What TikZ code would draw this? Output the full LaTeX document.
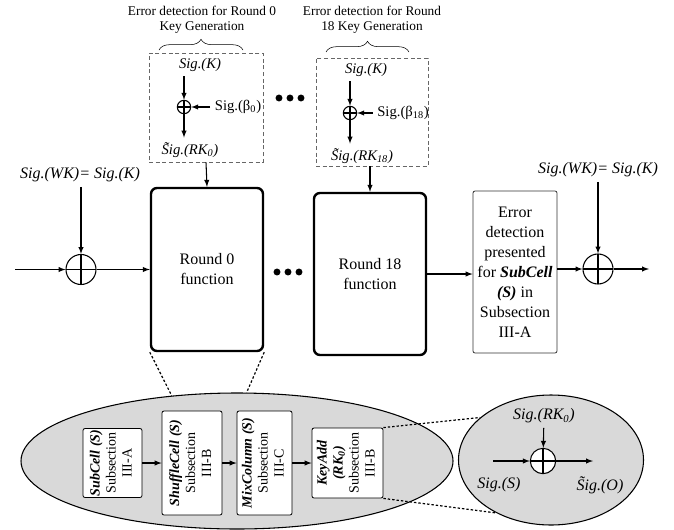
\documentclass[tikz,border=0pt]{standalone}
\usepackage{fontspec}
\setmainfont{Liberation Serif}
\usepackage{graphicx}
\usetikzlibrary{shapes.geometric, decorations.pathreplacing}

\newcommand{\tildesig}{\~{S}ig.}
\newcommand{\rottext}[1]{\rotatebox{90}{\begin{tabular}{@{}c@{}}#1\end{tabular}}}

\tikzset{
  arr/.style = {-latex, line width=0.8pt},
  xorgate/.style = {circle, draw, line width=0.8pt, inner sep=0pt,
    path picture={\draw[line width=0.8pt] (path picture bounding box.north) -- (path picture bounding box.south)
      (path picture bounding box.west) -- (path picture bounding box.east);}},
  kgbox/.style = {draw=black!60, dash pattern=on 3pt off 2pt, line width=0.6pt},
  roundbox/.style = {draw, line width=1.8pt, rounded corners=4.5pt, align=center},
  subbox/.style = {draw, line width=0.6pt, rounded corners=1.5pt, fill=white, inner sep=0pt},
  zoomline/.style = {line width=0.9pt, dash pattern=on 1.8pt off 1.5pt},
  glass/.style = {ellipse, draw, line width=0.8pt, fill=black!15},
}

\begin{document}
\begin{tikzpicture}[x=0.75pt, y=-0.75pt, font=\fontsize{12}{15}\selectfont]
  \useasboundingbox (0,0) rectangle (674,529);

  % Schlüsselerzeugung oben
  \node [align=center, font=\fontsize{10}{11.25}\selectfont] (lab0) at (202,20) {Error detection for Round 0\\Key Generation};
  \node [align=center, font=\fontsize{10}{11.25}\selectfont] (lab18) at (372,20) {Error detection for Round\\18 Key Generation};
  \draw [decorate, decoration={brace, amplitude=8pt}] (159,50) -- (243,50);
  \draw [decorate, decoration={brace, amplitude=8pt}] (326,52) -- (409,52);

  \node [kgbox, minimum width=85.5pt, minimum height=81.75pt] (kg0) at (206,107.5) {};
  \node [kgbox, minimum width=84pt, minimum height=81pt] (kg18) at (372,112) {};

  \begin{scope}[font=\fontsize{11}{13}\selectfont]
    \node (k0) at (200,65) {\textit{Sig.(K)}};
    \node [xorgate, minimum size=10pt] (x0) at (184,107) {};
    \node (b0) at (238,107) {Sig.(β\textsubscript{0})};
    \node (rk0) at (190,150) {\textit{\tildesig(RK\textsubscript{0})}};
    \node (k18) at (366,70) {\textit{Sig.(K)}};
    \node [xorgate, minimum size=10pt] (x18) at (350,113) {};
    \node (b18) at (403,113) {Sig.(β\textsubscript{18})};
    \node (rk18) at (362,156) {\textit{\tildesig(RK\textsubscript{18})}};
  \end{scope}
  \draw [arr] (k0.south -| x0) -- (x0);
  \draw [arr] (b0.west) -- (x0);
  \draw [arr] (x0) -- (x0 |- rk0.north);
  \draw [arr] (k18.south -| x18) -- (x18);
  \draw [arr] (b18.west) -- (x18);
  \draw [arr] (x18) -- (x18 |- rk18.north);

  % Punkte
  \foreach \px in {279,290,301} \fill (\px,98) circle (2.6pt);
  \foreach \px in {277,288,299} \fill (\px,272) circle (2.6pt);

  % Runden
  \node [roundbox, minimum width=84pt, minimum height=122.25pt] (r0) at (207,269.5) {Round 0\\function};
  \node [roundbox, minimum width=84pt, minimum height=121.5pt] (r18) at (370,274) {Round 18\\function};
  \node [draw=black!80, line width=0.6pt, rounded corners=1.5pt, align=center, minimum width=63pt, minimum height=121.5pt, inner sep=1pt] (err) at (515,272)
    {Error\\detection\\presented\\for \textbf{\textit{SubCell}}\\\textbf{\textit{(S)}} in\\Subsection\\III-A};
  \draw [arr] (kg0.south) -- (r0.north);
  \draw [arr] (kg18.south -| r18) -- (r18.north);

  % Whitening links und rechts
  \node (wkl) at (80,175) {\textit{Sig.(WK)= Sig.(K)}};
  \node [xorgate, minimum size=22.5pt] (xl) at (81,269.5) {};
  \coordinate (in) at (15,269.5);
  \draw [arr] (wkl.south -| xl) -- (xl);
  \draw [arr] (in) -- (xl);
  \draw [arr] (xl) -- (r0);
  \draw [arr] (r18.east) -- (r18.east -| err.west);

  \node (wkr) at (598,170) {\textit{Sig.(WK)= Sig.(K)}};
  \node [xorgate, minimum size=22.5pt] (xr) at (598,269) {};
  \coordinate (out) at (649,269);
  \draw [arr] (wkr.south -| xr) -- (xr);
  \draw [arr] (err.east |- xr) -- (xr);
  \draw [arr] (xr) -- (out);

  % Vergrößerung unten
  \node [glass, minimum width=324pt, minimum height=102pt] (big) at (237,461) {};
  \node [glass, minimum width=138.75pt, minimum height=97.5pt] (zm) at (551,460) {};

  \begin{scope}[font=\fontsize{10.5}{12}\selectfont]
    \node [subbox, minimum width=44.25pt, minimum height=51.75pt] (sub) at (112.5,463)
      {\rottext{\textbf{\textit{SubCell (S)}}\\Subsection\\III-A}};
    \node [subbox, minimum width=45pt, minimum height=78pt] (shf) at (192,463)
      {\rottext{\textbf{\textit{ShuffleCell (S)}}\\Subsection\\III-B}};
    \node [subbox, minimum width=41.25pt, minimum height=78pt] (mix) at (264.5,463)
      {\rottext{\textbf{\textit{MixColumn (S)}}\\Subsection\\III-C}};
    \node [subbox, minimum width=53.25pt, minimum height=52.5pt] (key) at (347.5,463)
      {\rottext{\textbf{\textit{KeyAdd}}\\\textbf{\textit{(RK\textsubscript{0})}}\\Subsection\\III-B}};
  \end{scope}
  \draw [arr] (sub) -- (shf);
  \draw [arr] (shf) -- (mix);
  \draw [arr] (mix) -- (key);

  \node [xorgate, fill=white, minimum size=19pt] (xb) at (543,461) {};
  \node (rkb) at (544,416) {\textit{Sig.(RK\textsubscript{0})}};
  \node (sb) at (499,485) {\textit{Sig.(S)}};
  \node (ob) at (600,485) {\textit{\tildesig(O)}};
  \coordinate (sin) at (493,461);
  \coordinate (sout) at (593,461);
  \draw [arr] (rkb) -- (xb);
  \draw [arr] (sin) -- (xb);
  \draw [arr] (xb) -- (sout);

  % gestrichelte Linien
  \draw [zoomline] (r0.south west) -- (big.135);
  \draw [zoomline] (r0.south east) -- (big.82);
  \draw [zoomline] (key.north east) -- (zm.149);
  \draw [zoomline] (key.south east) -- (zm.224);
\end{tikzpicture}
\end{document}
